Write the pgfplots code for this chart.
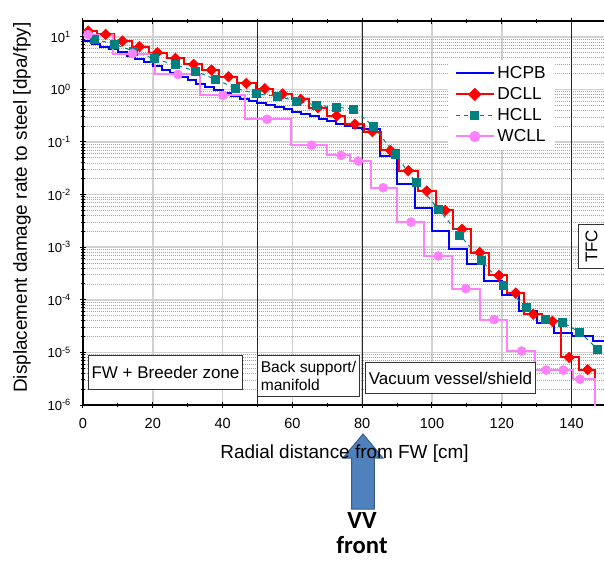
\documentclass[border=0pt]{standalone}
\usepackage{pgfplots}
\usepackage{pgfplotstable}
\pgfplotsset{compat=1.18}
\usepackage{fontspec}
\setmainfont{Liberation Sans}
\newfontfamily\calibri{Carlito}
\definecolor{hcpb}{RGB}{0,0,255}
\definecolor{dcll}{RGB}{255,0,0}
\definecolor{hcll}{RGB}{0,128,128}
\definecolor{wcll}{RGB}{255,128,255}
\definecolor{arrowfill}{RGB}{79,129,189}
\definecolor{arrowdraw}{RGB}{56,93,138}

\pgfplotstableread{
x y
0 8.15
2.5 7.24
5 6.44
7.5 5.73
10 5.04
12.5 4.39
15 3.81
17.5 3.31
20 2.81
22.5 2.38
25 2.04
27.5 1.75
30 1.50
32.5 1.29
35 1.11
37.5 0.96
40 0.85
42.5 0.755
45 0.67
47.5 0.60
50 0.55
52.5 0.50
55 0.46
57.5 0.417
60 0.377
62.5 0.340
65 0.306
67.5 0.275
70 0.247
72.5 0.223
75 0.202
77.5 0.183
80 0.174
85 0.054
90 0.0156
95 0.0055
100 0.00202
105 9.2e-4
110 4.7e-4
115 2.3e-4
120 1.26e-4
125 6.2e-5
130 3.6e-5
135 2.3e-5
140 2.05e-5
146 1.64e-5
150 1.64e-5
}\hcpbsteps

\pgfplotstableread{
x y
0 12.8
4 11.1
9 8.3
14 6.5
19 4.98
24 3.88
29 2.99
34 2.33
39 1.74
44 1.30
49.5 1.03
54.5 0.82
59.8 0.645
64.8 0.45
70 0.315
75.2 0.218
80.4 0.158
85.5 0.069
90.6 0.0285
96 0.0117
101.1 0.005
106.1 0.0022
111.1 7.9e-4
116.4 2.9e-4
121.5 1.34e-4
126.5 5.3e-5
131.5 3.9e-5
137 8.0e-6
142 4.7e-6
146.8 3e-7
150 3e-7
}\dcllsteps

\pgfplotstableread{
x y
1.5 12.8
6.5 11.1
11.3 8.3
16.2 6.5
21.3 4.98
26.5 3.88
31.7 2.99
36.8 2.33
41.7 1.74
46.8 1.30
52.1 1.03
57.2 0.82
62.4 0.645
67.3 0.45
72.7 0.315
77.9 0.218
82.9 0.158
88.1 0.069
93.2 0.0285
98.5 0.0117
103.8 0.005
108.6 0.0022
113.7 7.9e-4
119.2 2.9e-4
124 1.34e-4
129 5.3e-5
134.5 3.9e-5
139.3 8.0e-6
144.6 4.7e-6
}\dcllmarks

\pgfplotstableread{
x y
3.3 9.0
9.1 7.2
14.6 5.3
20.4 3.8
26.4 2.95
32.1 2.23
38.0 1.55
43.7 1.05
49.7 0.82
55.6 0.74
61.2 0.60
67.0 0.50
72.5 0.46
77.5 0.42
83.2 0.20
89.4 0.058
95.5 0.017
101.9 0.0052
108.0 0.0017
114.2 5.6e-4
120.5 1.85e-4
127.0 7.2e-5
132.4 4.3e-5
137.5 3.7e-5
142.4 2.4e-5
147.5 1.14e-5
}\hcll

\pgfplotstableread{
x y
0 11
8.6 4.8
20.7 1.93
33.6 0.77
46.5 0.27
59.5 0.087
70 0.0556
76.5 0.0434
82.5 0.0135
89.9 0.003
97.8 6.8e-4
105.6 1.63e-4
113.8 4.2e-5
121.6 1.06e-5
129.5 4.6e-6
140.4 3.1e-6
146.7 3e-7
150 3e-7
}\wcllsteps

\pgfplotstableread{
x y
1.4 11
14.2 4.8
27.2 1.93
40.1 0.77
52.7 0.27
65.5 0.087
73.9 0.0556
78.9 0.0434
86 0.0135
94 0.003
101.8 6.8e-4
109.7 1.63e-4
117.8 4.2e-5
125.7 1.06e-5
132.7 4.6e-6
137.6 4.6e-6
142.4 3.1e-6
}\wcllmarks

\begin{document}
\begin{tikzpicture}
\useasboundingbox (-62.25pt,-117pt) rectangle (390.75pt,303.75pt);
\clip (-62.25pt,-117pt) rectangle (390.75pt,303.75pt);

% VV front arrow (behind the axis label)
\filldraw[fill=arrowfill, draw=arrowdraw, line width=0.75pt]
  (201.4pt,-78pt) -- (201.4pt,-39.75pt) -- (195pt,-39.75pt) -- (210pt,-21.75pt)
  -- (225pt,-39.75pt) -- (218.6pt,-39.75pt) -- (218.6pt,-78pt) -- cycle;
\node[font=\calibri\bfseries\fontsize{18.5}{18.5}\selectfont, align=center] at (209.25pt,-96pt) {VV\\front};

\begin{axis}[
  at={(0pt,0pt)}, anchor=south west,
  scale only axis, width=392.625pt, height=288pt,
  xmin=0, xmax=150, ymin=1e-6, ymax=19.95,
  ymode=log,
  axis y line*=left,
  axis line style={black, line width=1pt},
  xtick={0,20,...,140},
  xticklabels={0,20,40,60,80,100,120,140},
  minor xtick={10,30,50,70,90,110,130,150},
  ytick={1e-6,1e-5,1e-4,1e-3,1e-2,1e-1,1,10},
  yticklabels={10\textsuperscript{-6},10\textsuperscript{-5},10\textsuperscript{-4},10\textsuperscript{-3},10\textsuperscript{-2},10\textsuperscript{-1},10\textsuperscript{0},10\textsuperscript{1}},
  minor ytick={2e-6,3e-6,4e-6,5e-6,6e-6,7e-6,8e-6,9e-6,
    2e-5,3e-5,4e-5,5e-5,6e-5,7e-5,8e-5,9e-5,
    2e-4,3e-4,4e-4,5e-4,6e-4,7e-4,8e-4,9e-4,
    2e-3,3e-3,4e-3,5e-3,6e-3,7e-3,8e-3,9e-3,
    2e-2,3e-2,4e-2,5e-2,6e-2,7e-2,8e-2,9e-2,
    0.2,0.3,0.4,0.5,0.6,0.7,0.8,0.9,
    2,3,4,5,6,7,8,9},
  tick align=center,
  major tick length=5pt, minor tick length=3pt,
  every tick/.style={black, line width=0.75pt},
  xmajorgrids, ymajorgrids, yminorgrids,
  major grid style={black!18, line width=1.1pt},
  minor grid style={black!35, line width=0.5pt, dash pattern=on 0.75pt off 0.75pt},
  extra x ticks={50,80,140},
  extra x tick labels={},
  extra x tick style={grid=major, major grid style={black!85, line width=0.9pt}, major tick length=0pt},
  xticklabel style={font=\fontsize{10.9}{12}\selectfont, yshift=-4pt},
  yticklabel style={font=\fontsize{9.8}{11}\selectfont, xshift=-3pt},
  every axis x label/.style={at={(axis description cs:0.4995,-0.1276)}, anchor=center},
  every axis y label/.style={at={(axis description cs:-0.1165,0.514)}, rotate=90, anchor=center},
  label style={font=\fontsize{14.2}{16}\selectfont},
  xlabel={Radial distance from FW [cm]},
  ylabel={Displacement damage rate to steel [dpa/fpy]},
  legend style={at={(0.697,0.90)}, anchor=north west, draw=none, fill=white,
    font=\fontsize{13}{14.5}\selectfont, row sep=1.2pt, inner xsep=5pt, inner ysep=3pt,
    /tikz/every even column/.append style={column sep=3pt}},
  legend cell align=left,
  legend image code/.code={\draw[mark repeat=2,mark phase=2,#1] plot coordinates {(0pt,0pt) (14.25pt,0pt) (28.5pt,0pt)};},
  legend entries={HCPB,DCLL,HCLL,WCLL},
]
\addlegendimage{hcpb, line width=1.5pt}
\addlegendimage{dcll, line width=1.5pt, mark=square*, mark size=2.8pt, mark options={rotate=45}}
\addlegendimage{hcll, line width=0.75pt, dashed, mark=square*, mark size=3pt, mark options={solid}}
\addlegendimage{wcll, line width=1.5pt, mark=*, mark size=3.4pt}

\addplot[hcpb, line width=1.5pt, const plot, forget plot] table {\hcpbsteps};
\addplot[dcll, line width=1.5pt, const plot, forget plot] table {\dcllsteps};
\addplot[dcll, only marks, mark=square*, mark size=2.8pt, mark options={rotate=45}, forget plot] table {\dcllmarks};
\addplot[hcll, line width=0.75pt, dashed, mark=square*, mark size=3pt, mark options={solid}, forget plot] table {\hcll};
\addplot[wcll, line width=1.5pt, const plot, forget plot] table {\wcllsteps};
\addplot[wcll, only marks, mark=*, mark size=3.4pt, forget plot] table {\wcllmarks};
\end{axis}

% region labels
\node[draw=black!80, fill=white, line width=0.75pt, inner xsep=2.6pt, minimum height=26pt,
  font=\fontsize{12.75}{14}\selectfont] at (61.9pt,24.4pt) {FW + Breeder zone};
\node[draw=black!80, fill=white, line width=0.75pt, inner xsep=2.5pt, minimum height=30.75pt, align=left,
  font=\fontsize{11.7}{13.5}\selectfont] at (169.1pt,22.1pt) {Back support/\\manifold};
\node[draw=black!80, fill=white, line width=0.75pt, inner xsep=2.6pt, minimum height=23.25pt,
  font=\fontsize{12.75}{14}\selectfont] at (275.6pt,19.9pt) {Vacuum vessel/shield};
\node[draw=black!80, fill=white, line width=0.75pt, rotate=90, inner xsep=4pt, minimum height=19pt,
  font=\fontsize{12.75}{14}\selectfont] at (381.4pt,118.9pt) {TFC};
\end{tikzpicture}
\end{document}
